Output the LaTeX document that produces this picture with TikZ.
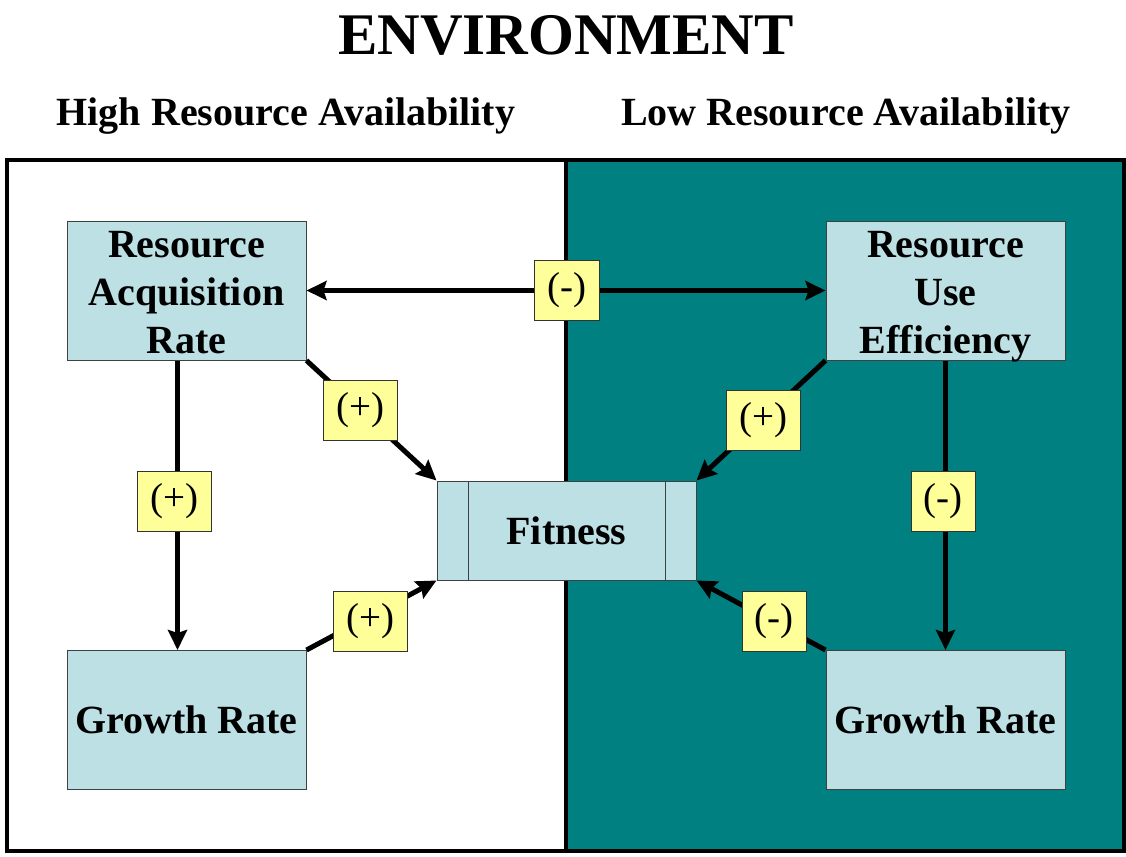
\documentclass[tikz,border=0pt]{standalone}
\usepackage{fontspec}
\setmainfont{Liberation Serif}
\usetikzlibrary{arrows.meta}
\definecolor{teal}{HTML}{008080}
\definecolor{boxblue}{HTML}{BCE0E3}
\definecolor{signyellow}{HTML}{FFFF99}
\newcommand{\topstrut}{\rule{0pt}{31pt}}
\tikzset{
  trait/.style={draw=black!75, line width=1pt, fill=boxblue, minimum width=239pt,
    minimum height=139pt, inner sep=0pt, align=center,
    font=\fontsize{40}{48}\selectfont\bfseries},
  sign/.style={draw=black!80, line width=1pt, fill=signyellow, minimum height=60pt,
    inner sep=0pt, font=\fontsize{39}{42}\selectfont},
  arr/.style={line width=5pt, -{Stealth[length=20pt,width=19pt,inset=3pt]}},
  darr/.style={line width=5pt, {Stealth[length=20pt,width=19pt,inset=3pt]}-{Stealth[length=20pt,width=19pt,inset=3pt]}},
  heading/.style={font=\fontsize{40}{44}\selectfont\bfseries}
}
\begin{document}
\begin{tikzpicture}[x=1pt,y=-1pt]
  \useasboundingbox (0,0) rectangle (1126,856);
  % background panels
  \fill[white] (7,160) rectangle (566,851);
  \fill[teal] (566,160) rectangle (1124,851);
  \draw[line width=4pt] (7,160) rectangle (1124,851);
  \draw[line width=4pt] (566,160) -- (566,851);
  % headings
  \node[font=\fontsize{59}{64}\selectfont\bfseries] (title) at (566,35) {ENVIRONMENT};
  \node[heading] (high) at (286,116) {High Resource Availability};
  \node[heading] (low) at (846,116) {Low Resource Availability};
  % trait boxes
  \node[trait] (rar) at (186.5,290.5) {\topstrut Resource\\Acquisition\\Rate};
  \node[trait] (rue) at (945.5,290.5) {\topstrut Resource\\Use\\Efficienc\smash{y}};
  \node[trait] (grl) at (186.5,720) {Growth Rate};
  \node[trait] (grr) at (945.5,720) {Growth Rate};
  \node[trait, minimum width=259pt, minimum height=99pt] (fit) at (566.5,530.5) {Fitness};
  \draw[black!75, line width=1pt] (468,481) -- (468,580) (665,481) -- (665,580);
  % connectors
  \draw[darr] (rar.east) -- (rue.west);
  \draw[arr] ([xshift=-9pt]rar.south) -- ([xshift=-9pt]grl.north);
  \draw[arr] (rue.south) -- (grr.north);
  \draw[arr] (rar.south east) -- (fit.north west);
  \draw[arr] (grl.north east) -- (fit.south west);
  \draw[arr] (rue.south west) -- (fit.north east);
  \draw[arr] (grr.north west) -- (fit.south east);
  % signs
  \node[sign, minimum width=65pt] (s1) at (566.5,290.5) {(-)};
  \node[sign, minimum width=74pt] (s2) at (360,410.5) {(+)};
  \node[sign, minimum width=74pt] (s3) at (174,501) {(+)};
  \node[sign, minimum width=74pt] (s4) at (370,621) {(+)};
  \node[sign, minimum width=74pt] (s5) at (763,420.5) {(+)};
  \node[sign, minimum width=64pt] (s6) at (943,501) {(-)};
  \node[sign, minimum width=64pt] (s7) at (774,621) {(-)};
\end{tikzpicture}
\end{document}
